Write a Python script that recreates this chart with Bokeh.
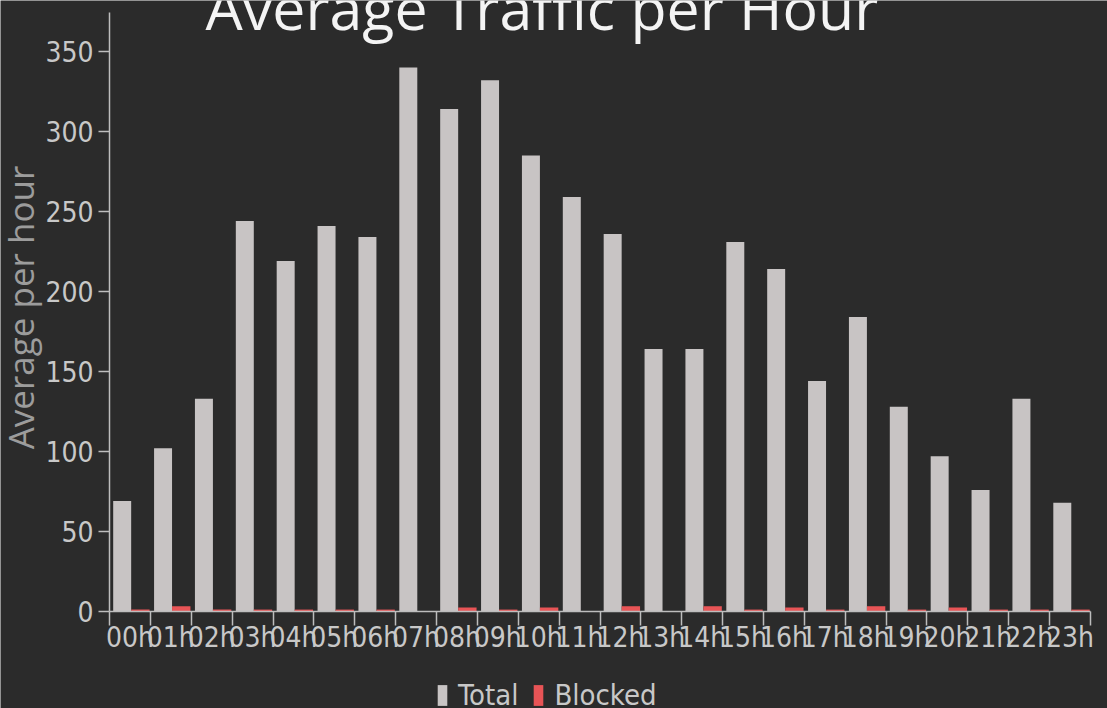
import math
from bokeh.plotting import figure
from bokeh.models import Range1d, FixedTicker, Label, Legend, LegendItem, ColumnDataSource
from bokeh.transform import dodge
from bokeh.embed import file_html
from bokeh.resources import INLINE

hours = [f"{h:02d}h" for h in range(24)]
total = [69, 102, 133, 244, 219, 241, 234, 340, 314, 332, 285, 259,
         236, 164, 164, 231, 214, 144, 184, 128, 97, 76, 133, 68]
blocked = [1.2, 3.3, 1.2, 1.2, 1.2, 1.2, 1.2, 0.3, 2.5, 1.2, 2.5, 0.3,
           3.3, 0.3, 3.3, 1.2, 2.5, 1.2, 3.3, 1.2, 2.5, 1.2, 1.2, 1.2]
y_ticks = [0, 50, 100, 150, 200, 250, 300, 350]

BG = "#2b2b2b"
GREY = "#c8c4c4"
RED = "#e85456"
TICK_FONT = "DejaVu Sans Condensed"
Y_AXIS_TOP = 374.4

src = ColumnDataSource(dict(x=list(range(24)), total=total, blocked=blocked, hour=hours))

# the frame fills the whole canvas; axes sit inside it at fixed locations
p = figure(width=1107, height=708, output_backend="svg", toolbar_location=None,
           x_range=Range1d(-2.667, 24.416), y_range=Range1d(-60.625, 381.875),
           background_fill_color=BG, border_fill_color=BG,
           min_border=0, min_border_left=0, min_border_right=0,
           min_border_top=0, min_border_bottom=0)
p.outline_line_color = None
p.grid.visible = False

r_total = p.vbar(x=dodge("x", 0.31, range=p.x_range), top="total", width=0.44, source=src,
                 fill_color=GREY, line_color=None)
r_blocked = p.vbar(x=dodge("x", 0.755, range=p.x_range), top="blocked", width=0.45, source=src,
                   fill_color=RED, line_color=None)

# y axis at x=0
ya = p.yaxis[0]
ya.fixed_location = 0
ya.ticker = FixedTicker(ticks=y_ticks, minor_ticks=[])
ya.bounds = (0, Y_AXIS_TOP)
ya.axis_line_color = "#bdbdbd"
ya.axis_line_width = 1.5
ya.major_tick_line_color = "#bdbdbd"
ya.major_tick_line_width = 1.5
ya.major_tick_out = 11
ya.major_tick_in = 0
ya.minor_tick_line_color = None
ya.major_label_text_font = TICK_FONT
ya.major_label_text_font_size = "28px"
ya.major_label_text_color = "#c8c8c8"
ya.major_label_standoff = 5

# x axis at y=0: labels at centers, boundary ticks as minor ticks
xa = p.xaxis[0]
xa.fixed_location = 0
xa.bounds = (0, 24)
centers = [i + 0.5 for i in range(24)]
xa.ticker = FixedTicker(ticks=centers, minor_ticks=list(range(25)))
xa.major_label_overrides = {c: h for c, h in zip(centers, hours)}
xa.axis_line_color = "#bdbdbd"
xa.axis_line_width = 1.5
xa.major_tick_line_color = None
xa.major_tick_out = 0
xa.major_tick_in = 0
xa.minor_tick_line_color = "#bdbdbd"
xa.minor_tick_line_width = 1.5
xa.minor_tick_out = 14
xa.minor_tick_in = 0
xa.major_label_text_font = TICK_FONT
xa.major_label_text_font_size = "28px"
xa.major_label_text_color = "#c8c8c8"
xa.major_label_standoff = -5

# chart title, partly cut by the top edge as in the reference
title = Label(x=10.58, y=378, text="Average Traffic per Hour", text_align="center",
              text_baseline="alphabetic", text_font="Open Sans", text_font_size="59px",
              text_color="#f4f4f4")
p.add_layout(title)

# y axis title
ylab = Label(x=-2.17, y=190, text="Average per hour", angle=math.pi / 2,
             text_align="center", text_baseline="middle", text_font="Open Sans",
             text_font_size="35px", text_color="#9c9c9c")
p.add_layout(ylab)

legend = Legend(items=[LegendItem(label="Total", renderers=[r_total]),
                       LegendItem(label="Blocked", renderers=[r_blocked])],
                orientation="horizontal", location=(436, -4),
                background_fill_alpha=0, border_line_alpha=0,
                label_text_font=TICK_FONT, label_text_font_size="29px",
                label_text_color="#c8c8c8", glyph_width=12, glyph_height=26,
                spacing=14, padding=0, margin=0, label_standoff=10)
p.add_layout(legend, "center")

open("out.html", "w").write(file_html(p, INLINE))
